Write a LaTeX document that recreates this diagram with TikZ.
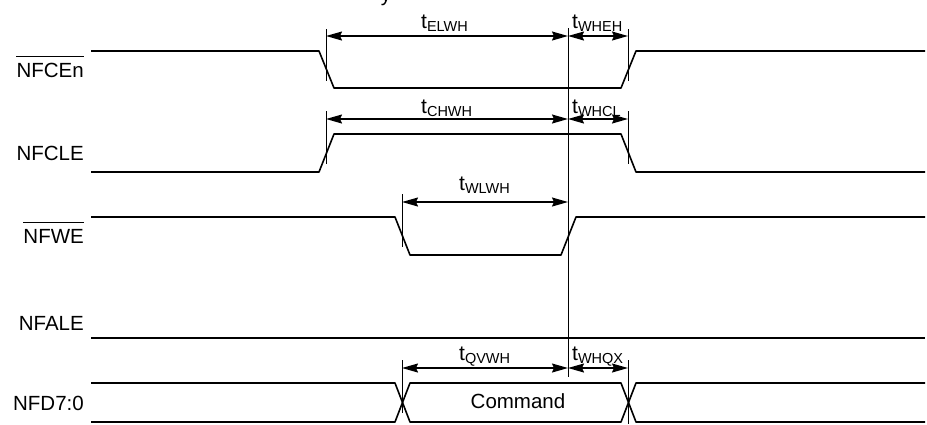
\documentclass[tikz,border=0pt]{standalone}
\usepackage{fontspec}
\setmainfont{Liberation Sans}
\usetikzlibrary{arrows.meta}
\newcommand{\tsub}[1]{{\fontsize{21}{22}\selectfont t}\raisebox{-3.5pt}{\fontsize{14.5}{15}\selectfont #1}}
\begin{document}
\begin{tikzpicture}[x=1pt,y=-1pt,
  sig/.style={line width=1.6pt,line join=round},
  marker/.style={line width=0.8pt},
  dim/.style={line width=1.4pt,{Stealth[length=16pt,width=9pt,inset=2pt]}-{Stealth[length=16pt,width=9pt,inset=2pt]}},
  siglabel/.style={font=\fontsize{20.5}{21}\selectfont,inner sep=0pt,anchor=base east},
  tlabel/.style={inner sep=0pt,anchor=base west},
  bar/.style={line width=1.3pt}]
\useasboundingbox (0,0) rectangle (927,424);
\fill[white] (0,0) rectangle (927,424);
% partial title fragment at top edge
\node[font=\fontsize{20.5}{21}\selectfont,inner sep=0pt,anchor=base] (ttl) at (386,1) {y};

% signal labels
\node[siglabel] (lce) at (84,77) {NFCEn};
\node[siglabel] (lcle) at (84,160) {NFCLE};
\node[siglabel] (lwe) at (84,243) {NFWE};
\node[siglabel] (lale) at (84,330) {NFALE};
\node[siglabel] (ld) at (84,410) {NFD7:0};
\draw[bar] ([yshift=6pt]lce.north west) -- ([yshift=6pt]lce.north east);
\draw[bar] ([yshift=6pt]lwe.north west) -- ([yshift=6pt]lwe.north east);

% waveforms
\draw[sig] (91,51) -- (319,51) -- (334,88) -- (621,88) -- (636,51) -- (925,51);
\draw[sig] (91,172) -- (319,172) -- (334,134) -- (621,134) -- (636,172) -- (925,172);
\draw[sig] (91,217) -- (395,217) -- (410,255) -- (561,255) -- (576,217) -- (925,217);
\draw[sig] (91,338) -- (925,338);
\draw[sig] (91,383) -- (395,383) -- (410,422) -- (621,422) -- (636,383) -- (925,383);
\draw[sig] (91,422) -- (395,422) -- (410,383) -- (621,383) -- (636,422) -- (925,422);
\node[font=\fontsize{20.5}{21}\selectfont,inner sep=0pt,anchor=base] (cmd) at (518,408) {Command};

% reference markers
\coordinate (m1a) at (326,29);  \coordinate (m1b) at (326,81);
\coordinate (m2a) at (628,29);  \coordinate (m2b) at (628,81);
\coordinate (m3a) at (326,111); \coordinate (m3b) at (326,164);
\coordinate (m4a) at (628,111); \coordinate (m4b) at (628,164);
\coordinate (m5a) at (402,194); \coordinate (m5b) at (402,247);
\coordinate (m6a) at (402,360); \coordinate (m6b) at (402,413);
\coordinate (m7a) at (628,360); \coordinate (m7b) at (628,424);
\coordinate (vta) at (568,28);  \coordinate (vtb) at (568,377);
\draw[marker] (m1a) -- (m1b);
\draw[marker] (m2a) -- (m2b);
\draw[marker] (m3a) -- (m3b);
\draw[marker] (m4a) -- (m4b);
\draw[marker] (m5a) -- (m5b);
\draw[marker] (m6a) -- (m6b);
\draw[marker] (m7a) -- (m7b);
\draw[marker] (vta) -- (vtb);

% dimension arrows
\coordinate (a1) at (326,36);  \coordinate (a2) at (568,36);  \coordinate (a3) at (628,36);
\coordinate (b1) at (326,119); \coordinate (b2) at (568,119); \coordinate (b3) at (628,119);
\coordinate (c1) at (402,202); \coordinate (c2) at (568,202);
\coordinate (d1) at (402,368); \coordinate (d2) at (568,368); \coordinate (d3) at (628,368);
\draw[dim] (a1) -- (a2);
\draw[dim] (a2) -- (a3);
\draw[dim] (b1) -- (b2);
\draw[dim] (b2) -- (b3);
\draw[dim] (c1) -- (c2);
\draw[dim] (d1) -- (d2);
\draw[dim] (d2) -- (d3);

% timing labels
\node[tlabel] (t1) at (421,28) {\tsub{ELWH}};
\node[tlabel] (t2) at (572,28) {\tsub{WHEH}};
\node[tlabel] (t3) at (421,113) {\tsub{CHWH}};
\node[tlabel] (t4) at (572,113) {\tsub{WHCL}};
\node[tlabel] (t5) at (459,190) {\tsub{WLWH}};
\node[tlabel] (t6) at (459,360) {\tsub{QVWH}};
\node[tlabel] (t7) at (572,360) {\tsub{WHQX}};
\end{tikzpicture}
\end{document}
